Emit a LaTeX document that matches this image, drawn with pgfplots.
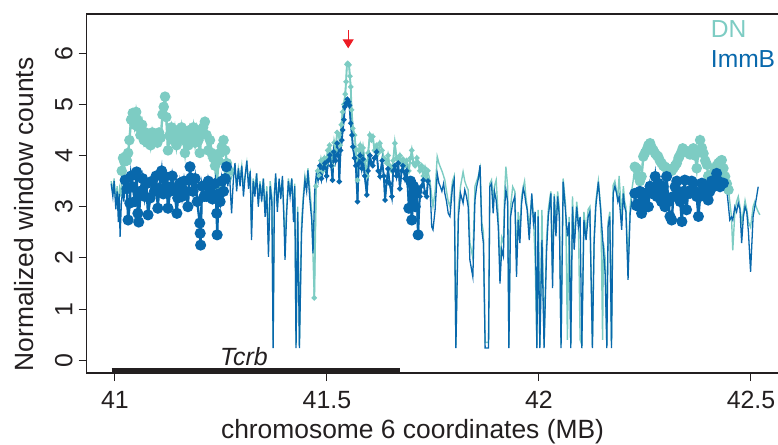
\documentclass[border=0pt]{standalone}
\usepackage{fontspec}
\setmainfont{Liberation Sans}
\usepackage{pgfplots}
\usepackage{pgfplotstable}
\pgfplotsset{compat=1.18}
\usetikzlibrary{arrows.meta}
\definecolor{dncol}{RGB}{125,204,195}
\definecolor{immcol}{RGB}{8,104,172}
\definecolor{ink}{RGB}{35,31,32}
\definecolor{arrowred}{RGB}{237,28,36}

\pgfplotstableread{
x y
40.991 3.50
40.995 3.30
40.998 3.55
41.002 3.10
41.005 3.40
41.008 3.00
41.011 3.35
41.014 3.20
41.016 3.70
41.019 3.95
41.022 3.88
41.025 3.98
41.028 3.90
41.031 4.05
41.034 4.30
41.038 4.70
41.042 4.83
41.046 4.60
41.050 4.85
41.053 4.70
41.056 4.55
41.060 4.40
41.064 4.60
41.068 4.30
41.072 4.45
41.076 4.25
41.080 4.40
41.084 4.20
41.088 4.45
41.092 4.30
41.096 4.38
41.100 4.25
41.104 4.45
41.108 4.35
41.112 4.80
41.115 4.95
41.118 5.15
41.121 4.75
41.125 4.10
41.129 4.40
41.133 4.55
41.137 4.30
41.141 4.50
41.145 4.20
41.149 4.45
41.153 4.35
41.157 4.55
41.161 4.30
41.165 4.05
41.169 4.40
41.173 4.20
41.177 4.50
41.181 4.35
41.185 4.55
41.189 4.25
41.193 4.50
41.197 4.30
41.200 4.05
41.204 4.40
41.208 4.55
41.212 4.66
41.216 4.40
41.220 4.10
41.224 4.30
41.228 4.05
41.232 3.95
41.236 3.80
41.240 3.40
41.244 3.90
41.248 4.05
41.252 4.17
41.256 4.30
41.260 4.10
41.264 3.85
41.268 3.70
41.272 3.50
41.276 3.60
41.279 3.70
41.283 3.80
41.287 3.40
41.291 3.75
41.295 3.55
41.299 3.80
41.303 3.40
41.307 3.60
41.311 3.85
41.315 3.50
41.319 3.65
41.322 2.60
41.326 3.55
41.330 3.35
41.334 3.65
41.338 3.10
41.342 3.50
41.346 3.20
41.350 3.55
41.354 2.90
41.358 3.40
41.362 2.30
41.366 3.50
41.370 3.20
41.373 0.40
41.376 3.30
41.379 3.60
41.383 3.00
41.387 3.50
41.391 3.25
41.395 3.55
41.399 2.75
41.401 2.30
41.405 3.00
41.409 3.55
41.413 3.30
41.417 3.55
41.421 2.90
41.424 3.45
41.427 0.30
41.431 3.00
41.435 0.30
41.440 2.70
41.444 3.20
41.448 3.60
41.452 3.40
41.455 3.75
41.459 3.40
41.464 2.90
41.470 1.22
41.474 3.40
41.478 3.70
41.482 3.60
41.486 3.90
41.490 3.70
41.494 3.95
41.498 3.85
41.502 4.10
41.506 4.20
41.510 4.05
41.513 3.80
41.517 4.25
41.520 4.10
41.524 4.45
41.528 4.40
41.531 4.20
41.534 4.60
41.537 4.85
41.540 5.00
41.543 5.20
41.545 5.44
41.547 5.78
41.549 5.80
41.552 5.77
41.554 5.55
41.556 5.34
41.558 4.89
41.561 4.53
41.565 4.40
41.568 4.13
41.572 3.52
41.575 4.10
41.578 4.20
41.582 3.95
41.585 4.15
41.589 3.90
41.594 3.60
41.597 4.05
41.601 4.40
41.605 4.30
41.608 4.37
41.612 4.10
41.617 4.20
41.621 4.05
41.625 4.24
41.630 4.10
41.634 3.95
41.637 3.93
41.641 3.85
41.644 4.00
41.648 3.80
41.653 3.70
41.656 3.90
41.660 4.24
41.664 3.95
41.668 3.85
41.672 4.00
41.676 3.85
41.679 3.93
41.684 3.80
41.688 3.90
41.693 3.70
41.697 3.95
41.700 4.10
41.704 3.85
41.708 3.80
41.712 3.95
41.715 3.86
41.719 3.70
41.723 3.80
41.727 3.60
41.731 3.75
41.735 3.55
41.738 3.70
41.743 3.50
41.747 3.20
41.750 3.00
41.755 3.30
41.760 3.98
41.764 3.85
41.767 3.78
41.771 3.70
41.775 3.60
41.778 3.52
41.782 3.30
41.786 3.10
41.790 3.00
41.796 3.50
41.800 3.60
41.804 0.30
41.810 3.00
41.815 3.40
41.821 3.68
41.825 3.50
41.829 3.40
41.833 3.33
41.837 2.30
41.844 2.00
41.849 3.40
41.853 3.50
41.857 3.60
41.861 3.75
41.865 2.70
41.869 2.50
41.873 0.35
41.881 0.35
41.884 3.45
41.888 3.52
41.892 3.10
41.895 3.40
41.899 3.52
41.904 2.80
41.908 1.80
41.912 2.40
41.916 2.30
41.919 3.30
41.922 3.78
41.926 3.40
41.929 0.30
41.933 3.00
41.938 3.39
41.943 3.30
41.947 2.00
41.951 2.90
41.955 2.50
41.959 3.20
41.963 3.39
41.966 3.50
41.969 3.20
41.972 3.00
41.977 2.60
41.983 3.20
41.987 2.80
41.991 1.93
41.995 0.30
41.998 2.94
42.002 0.30
42.007 2.94
42.012 0.30
42.018 2.40
42.022 2.95
42.028 3.30
42.032 1.70
42.036 3.25
42.040 2.60
42.044 3.30
42.048 2.95
42.052 0.30
42.057 3.55
42.063 3.00
42.067 0.40
42.071 2.80
42.075 0.30
42.079 3.20
42.083 2.30
42.089 3.10
42.093 2.70
42.097 0.40
42.101 0.30
42.106 2.90
42.111 2.50
42.116 2.95
42.120 3.00
42.126 0.30
42.130 2.40
42.134 3.10
42.140 3.50
42.146 2.95
42.150 0.40
42.152 2.30
42.156 2.00
42.160 0.30
42.163 2.70
42.167 2.90
42.171 0.30
42.175 3.42
42.179 3.50
42.183 3.30
42.186 3.20
42.189 3.60
42.195 2.80
42.199 3.40
42.202 3.10
42.205 3.00
42.210 1.90
42.215 3.00
42.219 3.33
42.222 3.50
42.226 3.78
42.230 3.75
42.234 3.60
42.238 3.50
42.242 3.59
42.246 3.98
42.250 4.05
42.254 4.11
42.258 4.20
42.262 4.24
42.266 4.15
42.270 4.10
42.274 4.04
42.278 4.00
42.281 3.98
42.285 3.90
42.289 3.85
42.293 3.80
42.297 3.78
42.301 3.75
42.305 3.72
42.309 3.72
42.313 3.70
42.317 3.75
42.321 3.80
42.325 3.85
42.329 3.95
42.331 3.98
42.335 4.05
42.339 4.14
42.344 4.10
42.348 4.08
42.352 4.05
42.356 4.02
42.360 4.10
42.364 4.14
42.368 4.00
42.372 3.75
42.376 4.10
42.380 4.30
42.384 4.15
42.388 4.04
42.392 3.90
42.396 3.82
42.399 3.60
42.403 3.39
42.407 3.55
42.411 3.65
42.415 3.72
42.419 3.80
42.423 3.85
42.427 3.88
42.431 3.91
42.435 3.75
42.439 3.59
42.443 3.45
42.447 3.33
42.450 3.10
42.454 2.80
42.457 2.15
42.462 2.90
42.466 3.10
42.470 3.20
42.474 3.00
42.478 2.70
42.482 2.90
42.486 3.12
42.490 2.95
42.494 2.70
42.499 2.60
42.505 3.00
42.509 3.10
42.512 3.00
42.517 2.90
42.521 2.84
}\dntab

\pgfplotstableread{
x y
40.991 3.45
40.995 3.20
40.998 3.50
41.002 2.95
41.005 3.30
41.008 2.70
41.010 3.25
41.012 2.41
41.015 3.05
41.018 3.35
41.021 3.10
41.024 3.52
41.028 3.35
41.031 2.74
41.035 3.07
41.038 3.60
41.042 3.39
41.047 3.10
41.051 3.68
41.054 2.87
41.056 2.70
41.060 3.30
41.065 3.55
41.070 3.20
41.074 3.45
41.078 2.84
41.083 3.17
41.088 3.50
41.093 3.30
41.097 3.60
41.101 2.97
41.104 3.36
41.110 3.70
41.114 3.25
41.118 3.59
41.122 3.40
41.125 2.97
41.130 3.30
41.135 3.60
41.140 3.35
41.146 2.87
41.148 3.17
41.153 3.46
41.158 3.20
41.163 3.50
41.167 3.30
41.172 3.00
41.177 3.78
41.179 3.56
41.184 3.30
41.189 3.55
41.194 3.10
41.200 2.68
41.201 2.48
41.202 2.25
41.205 3.40
41.210 3.20
41.216 3.20
41.220 3.50
41.225 3.30
41.230 3.15
41.236 3.45
41.240 2.87
41.241 2.45
41.244 3.25
41.248 3.10
41.252 3.50
41.256 3.30
41.260 3.55
41.263 3.78
41.266 3.40
41.270 3.65
41.275 2.87
41.279 3.50
41.283 3.85
41.287 3.30
41.291 3.75
41.295 3.40
41.299 3.80
41.303 3.20
41.307 3.60
41.311 3.90
41.315 3.35
41.319 3.70
41.322 2.35
41.326 3.50
41.330 3.20
41.334 3.65
41.338 3.00
41.342 3.45
41.346 3.10
41.350 3.55
41.354 2.80
41.358 3.30
41.362 2.02
41.366 3.40
41.370 3.10
41.373 0.24
41.376 3.20
41.379 3.65
41.383 2.90
41.387 3.55
41.391 3.15
41.395 3.60
41.399 2.60
41.401 1.96
41.405 2.90
41.409 3.50
41.413 3.20
41.417 3.55
41.421 2.70
41.424 3.40
41.427 0.24
41.431 2.90
41.435 0.24
41.440 2.48
41.444 3.10
41.448 3.52
41.452 3.30
41.455 3.71
41.459 3.20
41.464 2.74
41.467 2.09
41.471 3.30
41.475 3.65
41.479 3.50
41.483 3.80
41.487 3.55
41.491 3.75
41.495 3.85
41.499 3.60
41.503 3.90
41.507 4.01
41.510 3.80
41.513 3.52
41.516 4.07
41.520 3.90
41.524 4.24
41.527 4.00
41.529 3.49
41.532 4.10
41.535 4.30
41.537 4.50
41.540 4.70
41.542 4.95
41.545 5.02
41.548 5.10
41.551 5.05
41.553 4.98
41.556 4.63
41.559 4.40
41.561 4.17
41.565 3.95
41.568 3.80
41.572 3.10
41.575 3.85
41.578 4.00
41.582 3.75
41.585 3.93
41.589 3.60
41.594 3.23
41.597 3.70
41.601 4.00
41.605 3.85
41.608 3.80
41.612 3.95
41.617 4.07
41.621 3.70
41.625 3.59
41.630 3.90
41.634 3.60
41.637 3.13
41.641 3.50
41.644 3.74
41.648 3.45
41.653 3.20
41.656 3.70
41.660 3.80
41.664 3.60
41.668 3.85
41.672 3.35
41.676 3.70
41.679 3.80
41.684 3.55
41.688 3.70
41.693 2.97
41.697 3.50
41.700 2.74
41.704 3.40
41.708 3.00
41.712 3.30
41.715 2.45
41.719 3.20
41.723 3.40
41.727 3.52
41.731 3.27
41.735 3.20
41.738 3.50
41.743 3.40
41.747 2.61
41.750 2.55
41.755 2.94
41.760 3.65
41.764 3.46
41.767 3.40
41.771 3.30
41.775 3.45
41.778 3.26
41.782 3.10
41.786 2.87
41.790 2.81
41.796 3.39
41.800 3.52
41.804 0.24
41.810 2.81
41.815 3.26
41.821 3.07
41.825 3.33
41.829 3.20
41.833 3.00
41.837 1.96
41.844 1.63
41.849 3.13
41.853 3.39
41.857 3.55
41.861 3.81
41.865 2.55
41.869 2.29
41.873 0.24
41.881 0.24
41.884 3.39
41.888 3.45
41.892 2.87
41.895 3.30
41.899 3.13
41.904 2.61
41.908 1.50
41.912 2.16
41.916 2.03
41.919 3.00
41.922 3.33
41.926 3.10
41.929 0.24
41.933 2.81
41.938 3.07
41.943 3.20
41.947 1.63
41.951 2.74
41.955 2.29
41.959 3.07
41.963 3.36
41.966 3.26
41.969 3.07
41.972 2.95
41.977 2.35
41.983 3.26
41.987 2.68
41.991 2.90
41.995 0.24
41.998 2.81
42.002 0.24
42.007 2.35
42.012 0.24
42.018 2.16
42.022 2.81
42.028 3.26
42.032 1.41
42.036 3.20
42.040 2.42
42.044 3.20
42.048 2.81
42.052 0.24
42.057 3.49
42.063 2.87
42.067 2.42
42.071 2.70
42.075 0.24
42.079 3.00
42.083 2.16
42.089 3.00
42.093 2.60
42.097 2.80
42.101 0.24
42.106 2.74
42.111 2.35
42.116 2.81
42.120 2.90
42.126 0.24
42.130 2.29
42.134 3.00
42.140 3.49
42.146 2.87
42.152 2.16
42.156 1.70
42.160 0.24
42.163 2.61
42.167 2.81
42.171 0.24
42.175 3.26
42.179 3.40
42.183 3.26
42.186 3.10
42.189 3.20
42.195 2.55
42.199 3.26
42.202 3.00
42.205 2.90
42.210 1.57
42.215 2.87
42.219 3.10
42.222 3.00
42.226 3.26
42.230 3.02
42.234 3.05
42.238 3.30
42.242 2.87
42.246 3.15
42.250 3.26
42.254 3.00
42.258 3.00
42.262 3.40
42.266 3.26
42.270 3.35
42.274 3.59
42.278 3.20
42.281 3.46
42.285 3.26
42.289 3.10
42.293 3.40
42.297 3.00
42.301 3.59
42.305 3.10
42.309 2.81
42.313 2.74
42.317 3.20
42.321 3.39
42.325 3.50
42.329 3.26
42.333 3.10
42.337 2.71
42.341 3.30
42.344 3.52
42.348 2.94
42.352 3.30
42.356 3.26
42.360 3.50
42.364 3.46
42.368 3.30
42.372 3.20
42.376 2.81
42.380 3.20
42.384 3.46
42.388 3.40
42.392 3.33
42.396 3.20
42.399 3.13
42.403 3.30
42.407 3.50
42.411 3.39
42.415 3.50
42.419 3.65
42.423 3.50
42.427 3.39
42.431 3.45
42.435 3.46
42.439 3.30
42.443 3.33
42.447 3.00
42.450 2.74
42.454 2.80
42.457 2.74
42.462 3.00
42.466 2.90
42.470 3.07
42.474 2.95
42.478 2.29
42.482 2.80
42.486 3.00
42.490 2.90
42.494 2.50
42.499 1.73
42.505 2.81
42.509 3.00
42.512 3.13
42.517 3.39
}\immtab

\begin{document}
\begin{tikzpicture}
\begin{axis}[
  scale only axis, width=713.3bp, height=359bp,
  xmin=40.9333, xmax=42.6156, ymin=-0.248, ymax=6.764,
  clip=false,
  axis line style={line width=1.2bp, ink},
  tick align=outside, major tick length=8bp,
  every tick/.style={line width=1bp, ink},
  xtick={41,41.5,42,42.5}, xticklabels={41,41.5,42,42.5},
  ytick={0,1,2,3,4,5,6}, yticklabels={0,1,2,3,4,5,6},
  xtick pos=bottom, ytick pos=left,
  tick label style={font=\fontsize{25}{30}\selectfont, text=ink},
  yticklabel style={rotate=90, anchor=base},
  xticklabel style={anchor=base},
  xticklabel shift=27bp,
  yticklabel shift=6.3bp,
  xlabel={chromosome 6 coordinates (MB)},
  ylabel={Normalized window counts},
  label style={font=\fontsize{26.5}{31}\selectfont, text=ink},
  xlabel style={at={(axis description cs:0.4568,-0.1811)}, anchor=base},
  ylabel style={at={(axis description cs:-0.0749,0.4415)}, anchor=base},
]
% DN
\addplot[dncol, line width=1.4bp, mark=none] table[x=x,y=y]{\dntab};
\addplot[dncol, line width=2.4bp, mark=*, mark size=4bp, mark options={solid, fill=dncol, draw=dncol},
  restrict x to domain=41.015:41.270] table[x=x,y=y]{\dntab};
\addplot[dncol, line width=2.4bp, mark=*, mark size=4bp, mark options={solid, fill=dncol, draw=dncol},
  restrict x to domain=42.225:42.448] table[x=x,y=y]{\dntab};
\addplot[dncol, line width=1.8bp, mark=*, mark size=1.7bp, mark options={solid, fill=dncol, draw=dncol},
  restrict x to domain=41.465:41.740] table[x=x,y=y]{\dntab};
% ImmB
\addplot[immcol, line width=1.3bp, mark=none] table[x=x,y=y]{\immtab};
\addplot[immcol, line width=2.4bp, mark=*, mark size=4.3bp, mark options={solid, fill=immcol, draw=immcol},
  restrict x to domain=41.023:41.264] table[x=x,y=y]{\immtab};
\addplot[immcol, line width=2.4bp, mark=*, mark size=4.3bp, mark options={solid, fill=immcol, draw=immcol},
  restrict x to domain=42.225:42.436] table[x=x,y=y]{\immtab};
\addplot[immcol, line width=1.8bp, mark=*, mark size=1.7bp, mark options={solid, fill=immcol, draw=immcol},
  restrict x to domain=41.480:41.740] table[x=x,y=y]{\immtab};
\addplot[immcol, line width=2.4bp, mark=*, mark size=4.3bp, mark options={solid, fill=immcol, draw=immcol},
  restrict x to domain=41.692:41.716] table[x=x,y=y]{\immtab};
% annotations
\draw[arrowred, line width=1bp, -{Triangle[width=11bp,length=9bp]}] (axis cs:41.55,6.451) -- (axis cs:41.55,6.094);
\draw[ink, line width=5bp] (axis cs:40.992,-0.2) -- (axis cs:41.672,-0.2);
\node[anchor=base, inner sep=0pt, text=ink, font=\fontsize{25}{30}\selectfont\itshape] at (axis cs:41.304,-0.11) {Tcrb};
\node[anchor=base west, inner sep=0pt, text=dncol, font=\fontsize{24.7}{30}\selectfont] at (axis cs:42.405,6.301) {DN};
\node[anchor=base west, inner sep=0pt, text=immcol, font=\fontsize{24.7}{30}\selectfont] at (axis cs:42.405,5.715) {ImmB};
\end{axis}
\pgfresetboundingbox
\path[use as bounding box] (-86.7bp,-72bp) rectangle (691.3bp,373bp);
\end{tikzpicture}
\end{document}
